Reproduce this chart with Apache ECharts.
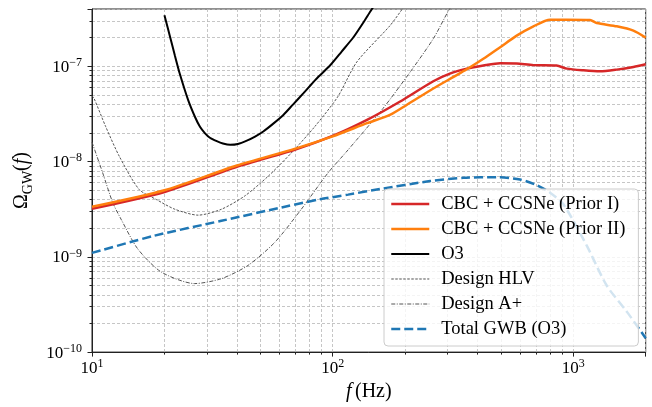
<!DOCTYPE html>
<html>
<head>
<meta charset="utf-8">
<script src="https://cdn.jsdelivr.net/npm/echarts@6/dist/echarts.min.js"></script>
<style>
    html, body { margin: 0; padding: 0; background: #fff; }
    #gwbChart { width: 652px; height: 407px; }
</style>
</head>
<body>
<div id="gwbChart"></div>
<script>
    // values (f in Hz, Omega_GW)
    const prior1Freq = [10, 20, 40, 70, 100, 139, 190, 262, 307, 361, 423, 497, 582, 683, 852, 940, 1102, 1290, 1516, 1778, 2000]
    const prior1Omega = [3.2e-9, 4.8e-9, 8.8e-9, 1.34e-8, 1.86e-8, 2.74e-8, 4.25e-8, 6.98e-8, 8.4e-8, 9.46e-8, 1.02e-7, 1.08e-7, 1.07e-7, 1.03e-7, 1.02e-7, 9.46e-8, 9.08e-8, 8.87e-8, 9.24e-8, 9.84e-8, 1.05e-7]

    const prior2Freq = [10, 20, 40, 70, 100, 139, 173, 203, 262, 318, 361, 423, 497, 582, 683, 801, 940, 1174, 1252, 1516, 1778, 2000]
    const prior2Omega = [3.35e-9, 5.0e-9, 9.1e-9, 1.37e-8, 1.84e-8, 2.53e-8, 3.09e-8, 3.93e-8, 5.86e-8, 7.75e-8, 9.31e-8, 1.2e-7, 1.59e-7, 2.1e-7, 2.63e-7, 3.09e-7, 3.09e-7, 3.07e-7, 2.85e-7, 2.63e-7, 2.37e-7, 2.0e-7]

    const o3Freq = [20, 21.1, 22.1, 23.2, 25.1, 26.8, 28.1, 29.5, 30.9, 33, 35, 37.5, 40.4, 44, 47.6, 51.5, 56.5, 62.4, 68.4, 75.5, 85.3, 97.5, 109, 122, 134, 145, 157]
    const o3Omega = [3.44e-7, 2.05e-7, 1.3e-7, 8.25e-8, 4.42e-8, 2.94e-8, 2.32e-8, 1.98e-8, 1.78e-8, 1.64e-8, 1.55e-8, 1.5e-8, 1.53e-8, 1.66e-8, 1.83e-8, 2.07e-8, 2.49e-8, 3.09e-8, 3.97e-8, 5.2e-8, 7.33e-8, 1.02e-7, 1.43e-7, 2.02e-7, 2.87e-7, 3.93e-7, 5.3e-7]

    const hlvFreq = [10, 10.2, 11.4, 13.0, 15.7, 18.5, 22.1, 27.6, 34.5, 43.1, 53.9, 67.3, 84.3, 105, 126, 173, 197, 215]
    const hlvOmega = [4.9e-8, 4.6e-8, 2.33e-8, 1.13e-8, 5.1e-9, 4.0e-9, 3.16e-9, 2.74e-9, 3.16e-9, 4.35e-9, 7.0e-9, 1.23e-8, 2.33e-8, 4.79e-8, 1.11e-7, 2.67e-7, 4.15e-7, 5.5e-7]

    const aplusFreq = [10, 11.08, 12.2, 13.2, 15.5, 19.4, 26.7, 34.5, 44.5, 57.5, 74.1, 95.7, 116, 162, 210, 262, 303, 325]
    const aplusOmega = [1.6e-8, 7.6e-9, 3.7e-9, 2.49e-9, 1.21e-9, 6.93e-10, 5.24e-10, 5.9e-10, 8.13e-10, 1.42e-9, 3.16e-9, 7.62e-9, 1.33e-8, 3.62e-8, 8.72e-8, 1.95e-7, 3.83e-7, 5.0e-7]

    const totalFreq = [10, 18.2, 34.5, 65.3, 88.6, 116, 157, 254, 349, 481, 601, 705, 801, 910, 1138, 1377, 1669, 2000]
    const totalOmega = [1.1e-9, 1.67e-9, 2.39e-9, 3.42e-9, 4.02e-9, 4.5e-9, 5.15e-9, 6.24e-9, 6.76e-9, 6.87e-9, 6.49e-9, 5.66e-9, 4.72e-9, 3.56e-9, 1.31e-9, 5.0e-10, 2.66e-10, 1.4e-10]

    const seriesNames = ['CBC + CCSNe (Prior I)', 'CBC + CCSNe (Prior II)', 'O3', 'Design HLV', 'Design A+', 'Total GWB (O3)']

    const serif = 'Liberation Serif'
    const gridLine = { color: '#b8b8b8', type: [3, 2], width: 0.8 }

    function pairs(xs, ys) {
        return xs.map((x, i) => [x, ys[i]])
    }

    // 10^n tick labels, blank for non-decade ticks (axis ends)
    function decadeLabel(v) {
        const e = Math.round(Math.log10(v))
        if (Math.abs(v - Math.pow(10, e)) > 1e-6 * v) return ''
        return '{b|10}{e|' + String(e).replace('-', '\u2212') + '}'
    }
    const tickRich = {
        b: { fontFamily: serif, fontSize: 17, color: '#000', verticalAlign: 'bottom' },
        e: { fontFamily: serif, fontSize: 12, color: '#000', verticalAlign: 'bottom', padding: [0, 0, 7, 0] }
    }

    function lineSeries(name, xs, ys, color, width, type, z) {
        return {
            name: name,
            type: 'line',
            data: pairs(xs, ys),
            symbol: 'none',
            smooth: 0.25,
            z: z,
            lineStyle: { color: color, width: width, type: type },
            itemStyle: { color: color }
        }
    }

    const option = {
        animation: false,
        backgroundColor: '#fff',
        grid: {
            left: 92, right: 6.3, top: 9, bottom: 53,
            show: true, borderColor: '#222', borderWidth: 1
        },
        legend: {
            data: seriesNames,
            orient: 'vertical',
            left: 384,
            top: 189,
            padding: [5, 13, 7, 6],
            itemWidth: 38,
            itemHeight: 14,
            itemGap: 5,
            itemStyle: { opacity: 0, borderWidth: 0 },
            lineStyle: { width: 'inherit' },
            backgroundColor: 'rgba(255,255,255,0.8)',
            borderColor: '#cccccc',
            borderWidth: 1,
            borderRadius: 4,
            textStyle: { fontFamily: serif, fontSize: 18.5, color: '#000', lineHeight: 20, padding: [0, 0, 0, 7] }
        },
        xAxis: {
            type: 'log',
            logBase: 10,
            min: 10,
            max: 2000,
            name: '{i|f} {o|(Hz)}',
            nameLocation: 'middle',
            nameGap: 22,
            nameTextStyle: {
                rich: {
                    i: { fontFamily: serif, fontStyle: 'italic', fontSize: 20, color: '#000' },
                    o: { fontFamily: serif, fontSize: 20, color: '#000' }
                }
            },
            axisLine: { show: true, lineStyle: { color: '#222', width: 1 } },
            axisTick: { show: true, length: 4.5, lineStyle: { color: '#222' } },
            minorTick: { show: true, splitNumber: 9, length: 2.5, lineStyle: { color: '#222' } },
            splitLine: { show: true, lineStyle: gridLine },
            minorSplitLine: { show: true, lineStyle: gridLine },
            axisLabel: { margin: 6, formatter: decadeLabel, rich: tickRich }
        },
        yAxis: {
            type: 'log',
            logBase: 10,
            min: 1e-10,
            max: 4e-7,
            name: '{o|\u03A9}{s|GW}{o|(}{i|f}{o|)}',
            nameLocation: 'middle',
            nameRotate: 90,
            nameGap: 48,
            nameTextStyle: {
                rich: {
                    o: { fontFamily: serif, fontSize: 20, color: '#000', verticalAlign: 'bottom', padding: [0, 0, 4, 0] },
                    i: { fontFamily: serif, fontStyle: 'italic', fontSize: 20, color: '#000', verticalAlign: 'bottom', padding: [0, 0, 4, 0] },
                    s: { fontFamily: serif, fontSize: 14, color: '#000', verticalAlign: 'bottom' }
                }
            },
            axisLine: { show: true, lineStyle: { color: '#222', width: 1 } },
            axisTick: { show: true, length: 4.5, lineStyle: { color: '#222' } },
            minorTick: { show: true, splitNumber: 9, length: 2.5, lineStyle: { color: '#222' } },
            splitLine: { show: true, lineStyle: gridLine },
            minorSplitLine: { show: true, lineStyle: gridLine },
            axisLabel: { margin: 10, formatter: decadeLabel, rich: tickRich }
        },
        series: [
            lineSeries(seriesNames[0], prior1Freq, prior1Omega, '#d62728', 2.5, 'solid', 3),
            lineSeries(seriesNames[1], prior2Freq, prior2Omega, '#ff7f0e', 2.5, 'solid', 4),
            lineSeries(seriesNames[2], o3Freq, o3Omega, '#000000', 2, 'solid', 3),
            lineSeries(seriesNames[3], hlvFreq, hlvOmega, '#555555', 1, [2.5, 1.5], 2),
            lineSeries(seriesNames[4], aplusFreq, aplusOmega, '#555555', 1, [4, 1.5, 1, 1.5], 2),
            lineSeries(seriesNames[5], totalFreq, totalOmega, '#1f77b4', 2.5, [9, 4], 2)
        ]
    }

    const chart = echarts.init(document.getElementById('gwbChart'))
    chart.setOption(option)
</script>
</body>
</html>
